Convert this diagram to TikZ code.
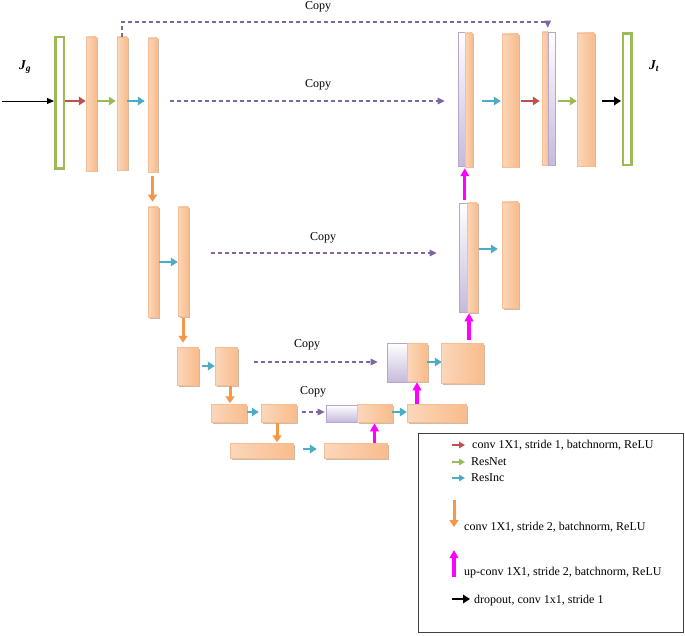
\documentclass[tikz,border=0pt]{standalone}
\usepackage{fontspec}
\setmainfont{Liberation Serif}
\usetikzlibrary{arrows.meta,shadows,calc}
\definecolor{cRed}{HTML}{C0504D}
\definecolor{cGreen}{HTML}{9BBB59}
\definecolor{cCyan}{HTML}{4BACC6}
\definecolor{cOrange}{HTML}{F79646}
\definecolor{cMag}{HTML}{FF00FF}
\definecolor{cPurple}{HTML}{8064A2}
\definecolor{barEdge}{HTML}{F9BC8C}
\definecolor{barMid}{HTML}{FEEADB}
\definecolor{barLeft}{HTML}{FBD7BB}
\definecolor{barLine}{HTML}{F6BE95}
\definecolor{shadowCol}{HTML}{B89474}
\definecolor{purpBot}{HTML}{C6BADB}
\definecolor{purpLine}{HTML}{B6A6CF}
\begin{document}
\begin{tikzpicture}[x=1pt,y=-1pt,
  bar/.style={rectangle, inner sep=0pt, draw=barLine, line width=0.5pt,
    left color=barLeft, middle color=barMid, right color=barEdge,
    drop shadow={shadow xshift=1.5pt, shadow yshift=-1.5pt, fill=shadowCol, opacity=0.65}},
  pbar/.style={rectangle, inner sep=0pt, draw=purpLine, line width=0.6pt,
    top color=white, bottom color=purpBot,
    drop shadow={shadow xshift=1.2pt, shadow yshift=-1.2pt, fill=purpLine, opacity=0.6}},
  gbar/.style={rectangle, inner sep=0pt, draw=cGreen, line width=2.5pt, fill=white},
  arr/.style={line width=2.6pt, -{Triangle[length=7pt,width=8.5pt]}},
  downarr/.style={draw=cOrange, line width=3pt, -{Triangle[length=7pt,width=9pt]}},
  uparr/.style={draw=cMag, line width=3.2pt, -{Triangle[length=8pt,width=8.5pt]}},
  copyline/.style={draw=cPurple, line width=1.1pt, dash pattern=on 4pt off 3pt,
    -{Triangle[length=7pt,width=6.5pt]}},
  lbl/.style={font=\fontsize{12}{14}\selectfont, inner sep=0pt},
  jlbl/.style={font=\fontsize{13.5}{15}\selectfont\bfseries\itshape, inner sep=0pt}
]
\useasboundingbox (0,0) rectangle (685,636);

% ---------- row coordinates ----------
\coordinate (in) at (2,101);
\coordinate (r1) at (0,101);
\coordinate (ctop) at (0,22);
\coordinate (r2) at (0,262);
\coordinate (r2c) at (0,253);
\coordinate (r2r) at (0,249);
\coordinate (r3) at (0,366);
\coordinate (r3r) at (0,362);
\coordinate (r4) at (0,412);
\coordinate (r5) at (0,449);

% ---------- level 1 ----------
\node[gbar, minimum width=8.5pt, minimum height=131.5pt] (g1) at (59.5,103) {};
\node[bar, minimum width=10pt, minimum height=134pt] (b11) at (91,104) {};
\node[bar, minimum width=10pt, minimum height=133pt] (b12) at (122,103.5) {};
\node[bar, minimum width=9pt, minimum height=134pt] (b13) at (152.5,105) {};

\node[pbar, minimum width=8pt, minimum height=134pt] (p14) at (462,99) {};
\node[bar, minimum width=7pt, minimum height=134pt] (c14) at (468.5,100) {};
\node[bar, minimum width=16pt, minimum height=133pt] (b15) at (510,100.5) {};
\node[bar, minimum width=7pt, minimum height=133pt] (c16) at (545.5,98.5) {};
\node[pbar, minimum width=7pt, minimum height=133pt] (p16) at (551.5,98.5) {};
\node[bar, minimum width=17pt, minimum height=133pt] (b17) at (585.5,99.5) {};
\node[gbar, minimum width=8.5pt, minimum height=131.5pt] (g2) at (627,99.5) {};

% ---------- level 2 ----------
\node[bar, minimum width=10pt, minimum height=110pt] (b21) at (153,262) {};
\node[bar, minimum width=10pt, minimum height=109pt] (b22) at (183,261.5) {};
\node[pbar, minimum width=8pt, minimum height=109pt] (p23) at (463,257.5) {};
\node[bar, minimum width=10pt, minimum height=109pt] (c23) at (472,257.5) {};
\node[bar, minimum width=16pt, minimum height=106pt] (b24) at (510,255) {};

% ---------- level 3 ----------
\node[bar, minimum width=21pt, minimum height=38pt] (b31) at (187.5,366) {};
\node[bar, minimum width=22pt, minimum height=38pt] (b32) at (226,366) {};
\node[pbar, minimum width=21pt, minimum height=39pt] (p33) at (397.5,362.5) {};
\node[bar, minimum width=20pt, minimum height=38pt] (c33) at (417,362) {};
\node[bar, minimum width=42pt, minimum height=40pt] (b34) at (462,363) {};

% ---------- level 4 ----------
\node[bar, minimum width=35pt, minimum height=18pt] (b41) at (228.5,413) {};
\node[bar, minimum width=35pt, minimum height=18pt] (b42) at (278.5,413) {};
\node[pbar, minimum width=34pt, minimum height=17pt] (p43) at (343,413.5) {};
\node[bar, minimum width=35pt, minimum height=18pt] (c43) at (374.5,413) {};
\node[bar, minimum width=59pt, minimum height=18pt] (b44) at (436.5,413) {};

% ---------- level 5 ----------
\node[bar, minimum width=63pt, minimum height=15pt] (b51) at (261.5,450.5) {};
\node[bar, minimum width=63pt, minimum height=15pt] (b52) at (355.5,450.5) {};

% ---------- labels ----------
\node[jlbl] (jg) at (25,67) {J\textsubscript{g}};
\node[jlbl] (jt) at (654,66) {J\textsubscript{t}};
\node[lbl] (cp1) at (318,7) {Copy};
\node[lbl] (cp2) at (318,85) {Copy};
\node[lbl] (cp3) at (323,238) {Copy};
\node[lbl] (cp4) at (307,345) {Copy};
\node[lbl] (cp5) at (313,392) {Copy};

% ---------- level 1 connectors ----------
\draw[line width=0.9pt, -{Triangle[length=7pt,width=6pt]}] (in) -- (in -| g1.west);
\draw[arr, cRed] (g1.east |- r1) -- (b11.west |- r1);
\draw[arr, cGreen, shorten <=1pt, shorten >=1pt] (b11.east |- r1) -- (b12.west |- r1);
\draw[arr, cCyan, shorten >=3pt] (b12.east |- r1) -- (b13.west |- r1);
\draw[copyline, shorten <=13pt, shorten >=13pt] (b13.east |- r1) -- (p14.west |- r1);
\draw[copyline, shorten >=4pt] (b12.north) -- (b12.north |- ctop) -- (p16.north west |- ctop) -- (p16.north west);
\draw[arr, cCyan, shorten <=10pt, shorten >=1pt] (c14.east |- r1) -- (b15.west |- r1);
\draw[arr, cRed, shorten <=3pt, shorten >=2pt] (b15.east |- r1) -- (c16.west |- r1);
\draw[arr, cGreen, shorten <=3pt] (p16.east |- r1) -- (b17.west |- r1);
\draw[arr, black, shorten <=8pt, shorten >=0.5pt] (b17.east |- r1) -- (g2.west |- r1);
\draw[downarr, shorten <=4pt, shorten >=5pt] (b13.south) -- (b13.south |- b21.north);
\draw[uparr, shorten <=3pt, shorten >=1pt] ([xshift=-2pt]c23.north west) -- ([xshift=-2pt]c23.north west |- c14.south);

% ---------- level 2 connectors ----------
\draw[arr, cCyan, shorten <=1pt] (b21.east |- r2) -- (b22.west |- r2);
\draw[copyline, shorten <=23pt, shorten >=22pt] (b22.east |- r2c) -- (p23.west |- r2c);
\draw[arr, cCyan, shorten <=2pt, shorten >=4pt] (c23.east |- r2r) -- (b24.west |- r2r);
\draw[downarr, shorten <=2pt, shorten >=4pt] (b22.south) -- (b22.south |- b31.north);
\draw[uparr, shorten <=3pt, shorten >=1pt] ([xshift=-3pt]c23.south |- b34.north) -- ([xshift=-3pt]c23.south);

% ---------- level 3 connectors ----------
\draw[arr, cCyan, shorten <=4pt] (b31.east |- r3) -- (b32.west |- r3);
\draw[copyline, shorten <=17pt, shorten >=9pt] (b32.east |- r3r) -- (p33.west |- r3r);
\draw[arr, cCyan, shorten >=-1pt] (c33.east |- r3r) -- (b34.west |- r3r);
\draw[downarr, shorten <=1pt, shorten >=0.5pt] ([xshift=4pt]b32.south) -- ([xshift=4pt]b32.south |- b41.north);
\draw[uparr, shorten >=1pt] (c33.south |- b44.north) -- (c33.south);

% ---------- level 4 connectors ----------
\draw[arr, cCyan, shorten <=1pt, shorten >=2pt] (b41.east |- r4) -- (b42.west |- r4);
\draw[downarr, shorten <=1pt, shorten >=0.5pt] ([xshift=-1.5pt]b42.south) -- ([xshift=-1.5pt]b42.south |- b51.north);
\draw[copyline, shorten <=6pt, shorten >=1pt] (b42.east |- r4) -- (p43.west |- r4);
\draw[arr, cCyan] (c43.east |- r4) -- (b44.west |- r4);
\draw[uparr, shorten >=1pt] (c43.south |- b52.north) -- (c43.south);

% ---------- level 5 connectors ----------
\draw[arr, cCyan, shorten <=10pt, shorten >=7pt] (b51.east |- r5) -- (b52.west |- r5);

% ---------- legend ----------
\node[draw=black!75, line width=0.8pt, minimum width=265pt, minimum height=199pt, inner sep=0pt] (legend) at (550.5,532.5) {};
\node[lbl, anchor=west] (t1) at (472,445) {conv 1X1, stride 1, batchnorm, ReLU};
\node[lbl, anchor=west] (t2) at (471,462) {ResNet};
\node[lbl, anchor=west] (t3) at (471,478) {ResInc};
\node[lbl, anchor=west] (t4) at (464,527) {conv 1X1, stride 2, batchnorm, ReLU};
\node[lbl, anchor=west] (t5) at (464,573) {up-conv 1X1, stride 2, batchnorm, ReLU};
\node[lbl, anchor=west] (t6) at (474,601) {dropout, conv 1x1, stride 1};
\coordinate (l1) at (452,445);
\coordinate (l2) at (452,462);
\coordinate (l3) at (452,478);
\coordinate (l4) at (454,500);
\coordinate (l5) at (454,577);
\coordinate (l6) at (452,599);
\draw[cRed, line width=2pt, -{Triangle[length=6pt,width=6.5pt]}] (l1) -- ++(13,0);
\draw[cGreen, line width=2pt, -{Triangle[length=6pt,width=6.5pt]}] (l2) -- ++(13,0);
\draw[cCyan, line width=2pt, -{Triangle[length=6pt,width=6.5pt]}] (l3) -- ++(13,0);
\draw[downarr] (l4) -- ++(0,27);
\draw[uparr] (l5) -- ++(0,-27);
\draw[arr, black] (l6) -- ++(18,0);
\end{tikzpicture}
\end{document}
